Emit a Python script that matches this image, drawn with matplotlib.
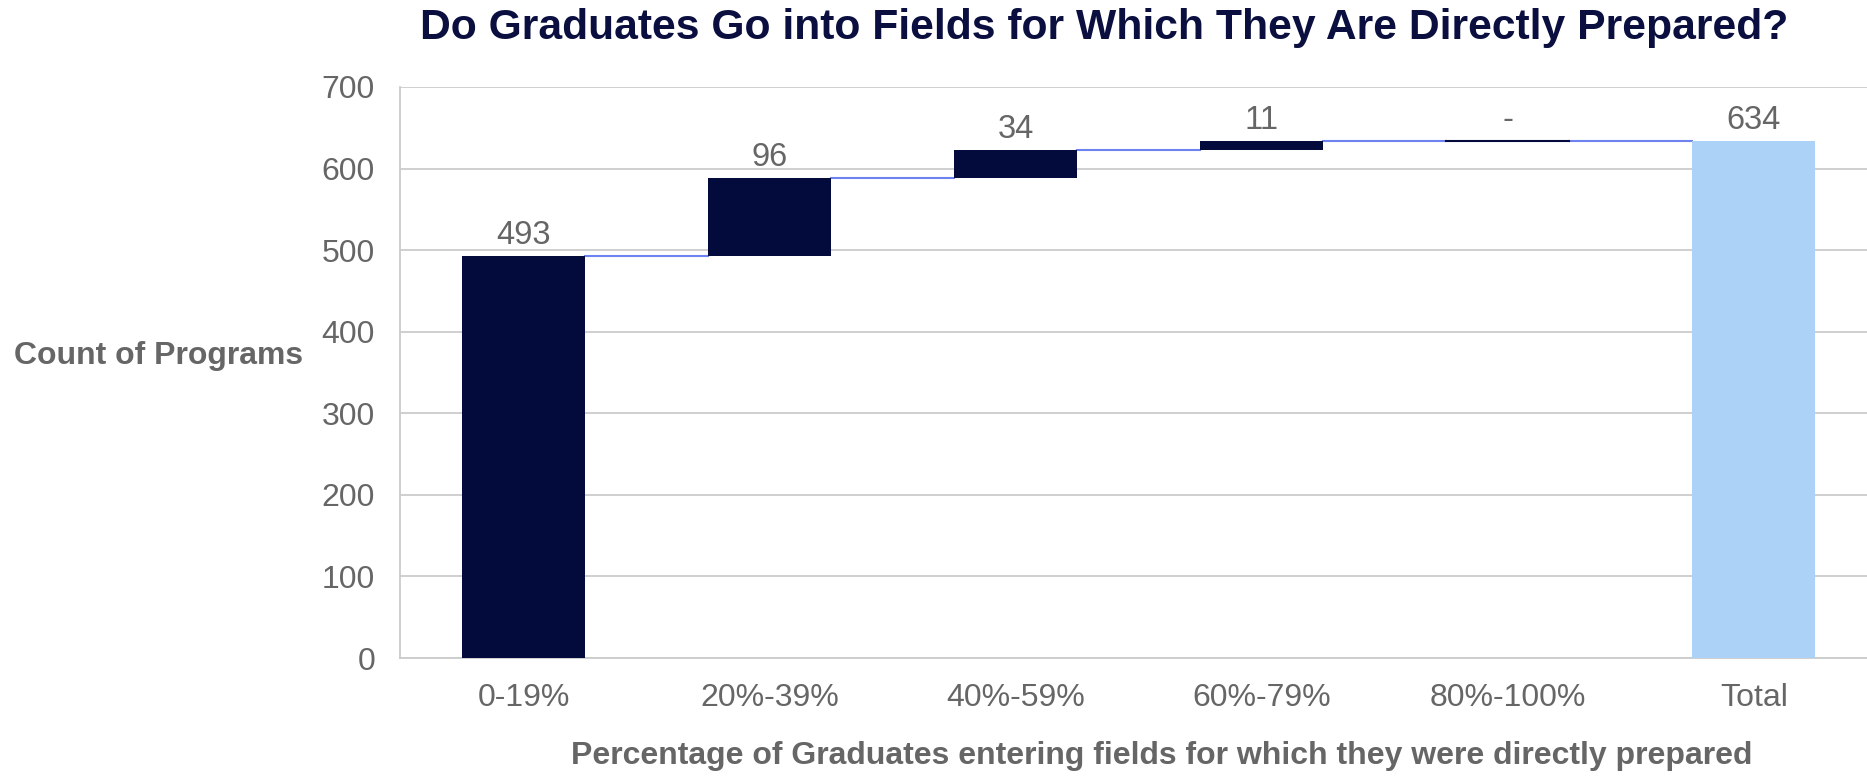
import numpy as np
import matplotlib
matplotlib.use('Agg')
import matplotlib.pyplot as plt

plt.rcParams['font.family'] = ['Liberation Sans', 'DejaVu Sans']

categories = ['0-19%', '20%-39%', '40%-59%', '60%-79%', '80%-100%', 'Total']
steps = [493, 96, 34, 11, 0]
total = 634

navy = '#020B3B'
light = '#ADD2F8'
link = '#6F83F0'
grey = '#666666'
gridc = '#CCCCCC'

fig = plt.figure(figsize=(18.67, 7.76), dpi=100)
ax = fig.add_axes([400/1867, 1 - 658/776, 1 - 400/1867, (658 - 87)/776])

x = np.arange(len(categories))
bottoms = np.concatenate([[0], np.cumsum(steps)[:-1]])
w = 0.5
ax.bar(x[:-1], steps, bottom=bottoms, width=w, color=navy, zorder=3)
ax.bar(x[-1], total, width=w, color=light, zorder=3)
# zero-height step still shows as a thin line
for xi, b, s in zip(x[:-1], bottoms, steps):
    if s == 0:
        ax.plot([xi - w/2, xi + w/2], [b, b], color=navy, lw=1.5, zorder=4)

# connectors between bars
tops = np.cumsum(steps)
for i, t in enumerate(tops):
    ax.plot([x[i] + w/2, x[i + 1] - w/2], [t, t], color=link, lw=1.5, zorder=2)

# value labels
labels = [str(s) if s else '-' for s in steps] + [str(total)]
ys = list(tops) + [total]
for xi, yv, lab in zip(x, ys, labels):
    ax.text(xi, yv + 6, lab, ha='center', va='bottom', fontsize=23.5, color=grey)

ax.set_xlim(-0.504, 5.46)
ax.set_ylim(0, 700)
ax.set_yticks(range(0, 701, 100))
ax.set_xticks(x)
ax.set_xticklabels(categories)
ax.tick_params(axis='both', length=0, labelsize=23, labelcolor=grey)
ax.tick_params(axis='y', pad=18)
ax.tick_params(axis='x', pad=18)
ax.grid(axis='y', color=gridc, lw=1.3, zorder=0)
ax.set_axisbelow(True)
for sp in ['top', 'right']:
    ax.spines[sp].set_visible(False)
for sp in ['left', 'bottom']:
    ax.spines[sp].set_color(gridc)
    ax.spines[sp].set_linewidth(1.3)

fig.text(1104/1867, 1 - 28/776, 'Do Graduates Go into Fields for Which They Are Directly Prepared?',
         ha='center', va='center', fontsize=30.7, fontweight='bold', color='#0A0F3F')
fig.text(14/1867, 1 - 356/776, 'Count of Programs', ha='left', va='center',
         fontsize=23, fontweight='bold', color=grey)
fig.text(1162/1867, 1 - 756/776, 'Percentage of Graduates entering fields for which they were directly prepared',
         ha='center', va='center', fontsize=23, fontweight='bold', color=grey)

fig.savefig('out.png', dpi=100)
